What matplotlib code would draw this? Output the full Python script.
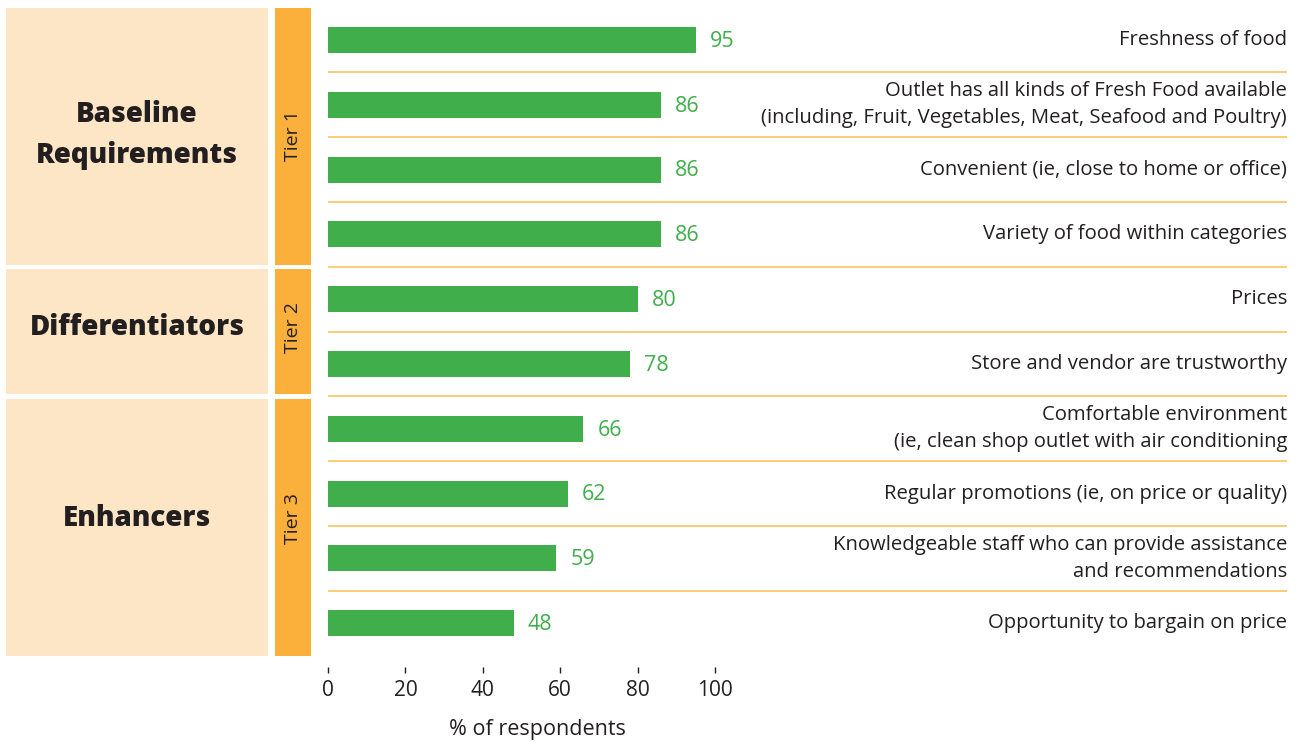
import matplotlib.pyplot as plt
from matplotlib.patches import Rectangle

plt.rcParams['font.family'] = ['Open Sans', 'DejaVu Sans']

# data
labels = [
    "Freshness of food",
    "Outlet has all kinds of Fresh Food available\n(including, Fruit, Vegetables, Meat, Seafood and Poultry)",
    "Convenient (ie, close to home or office)",
    "Variety of food within categories",
    "Prices",
    "Store and vendor are trustworthy",
    "Comfortable environment\n(ie, clean shop outlet with air conditioning",
    "Regular promotions (ie, on price or quality)",
    "Knowledgeable staff who can provide assistance\nand recommendations",
    "Opportunity to bargain on price",
]
values = [95, 86, 86, 86, 80, 78, 66, 62, 59, 48]
groups = ["Baseline\nRequirements", "Differentiators", "Enhancers"]
tiers = ["Tier 1", "Tier 2", "Tier 3"]
group_rows = [(0, 3), (4, 5), (6, 9)]
xticks = [0, 20, 40, 60, 80, 100]

GREEN = "#40AE4B"
BEIGE = "#FDE6C5"
ORANGE = "#FBB03B"
LINE = "#FCC66E"
DARK = "#231F20"

W, H = 1300, 747
fig = plt.figure(figsize=(13, 7.47), dpi=100)

# main bar axes (pixel layout)
x0, x1, ytop, ybot = 328, 1287, 7.6, 655.6
ax = fig.add_axes([x0 / W, 1 - ybot / H, (x1 - x0) / W, (ybot - ytop) / H])
xmax = (x1 - x0) / 3.87
ypos = list(range(len(values)))
ax.barh(ypos, values, height=0.4, color=GREEN)
for y, v in zip(ypos, values):
    ax.text(v + 3.6, y + 0.02, str(v), color=GREEN, fontsize=15.5, va='center', ha='left')
    ax.text(1.0, y, labels[y], transform=ax.get_yaxis_transform(),
            ha='right', va='center', fontsize=14.6, color=DARK, linespacing=1.45)
for i in range(len(values) - 1):
    ax.axhline(i + 0.5, color=LINE, lw=1.3)
ax.set_xlim(0, xmax)
ax.set_ylim(len(values) - 0.5, -0.5)
ax.set_xticks(xticks)
ax.set_yticks([])
for s in ['top', 'right', 'left']:
    ax.spines[s].set_visible(False)
ax.spines['bottom'].set_position(('outward', 8.5))
ax.spines['bottom'].set_color('none')
ax.tick_params(axis='x', length=4, width=1, color=DARK, labelsize=15,
               labelcolor=DARK, pad=5)
fig.text(537 / W, 1 - 730 / H, "% of respondents", ha='center', va='center',
         fontsize=15.5, color=DARK)

# left side group blocks, same row scale
axl = fig.add_axes([6 / W, 1 - ybot / H, (311 - 6) / W, (ybot - ytop) / H])
axl.set_xlim(6, 311)
axl.set_ylim(len(values) - 0.5, -0.5)
axl.axis('off')
gap = 0.035
text_y = [1.47, 4.43, 7.39]
for k, (a, b) in enumerate(group_rows):
    top = a - 0.5 + (gap if a > 0 else 0)
    bot = b + 0.5 - (gap if b < len(values) - 1 else 0)
    axl.add_patch(Rectangle((6, top), 262, bot - top, color=BEIGE, lw=0))
    axl.add_patch(Rectangle((275, top), 36, bot - top, color=ORANGE, lw=0))
    axl.text(137, text_y[k], groups[k], ha='center', va='center', fontsize=20,
             fontweight='extra bold', color=DARK, linespacing=1.55)
    axl.text(293, text_y[k], tiers[k], ha='center', va='center', fontsize=14,
             rotation=90, color=DARK)

fig.savefig("out.png", dpi=100)
